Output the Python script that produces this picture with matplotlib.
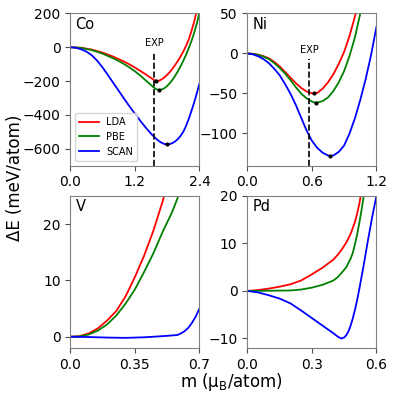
import numpy as np
import matplotlib
matplotlib.use("Agg")
import matplotlib.pyplot as plt

# ---- data ----
# Co
co_lda_x = [0, 0.2, 0.4, 0.6, 0.8, 1.0, 1.1, 1.2, 1.3, 1.4, 1.45, 1.5, 1.55, 1.6, 1.65, 1.7, 1.75,
            1.8, 1.85, 1.9, 1.95, 2.0, 2.05, 2.1, 2.15, 2.2, 2.25, 2.3, 2.35]
co_lda_y = [0, -3, -14, -32, -56, -85, -102, -120, -140, -160, -171, -182, -193, -199, -198, -190, -178,
            -163, -146, -126, -104, -80, -54, -25, 8, 45, 95, 150, 215]
co_pbe_x = [0, 0.2, 0.4, 0.6, 0.8, 0.9, 1.0, 1.1, 1.2, 1.3, 1.4, 1.45, 1.5, 1.55, 1.6, 1.65, 1.7,
            1.75, 1.8, 1.85, 1.9, 1.95, 2.0, 2.05, 2.1, 2.15, 2.2, 2.25, 2.3, 2.35, 2.4]
co_pbe_y = [0, -4, -17, -38, -66, -82, -100, -120, -142, -168, -196, -210, -224, -238, -249, -253, -250,
            -242, -229, -212, -192, -168, -141, -112, -80, -45, -6, 36, 84, 140, 205]
co_scan_x = [0, 0.1, 0.2, 0.3, 0.4, 0.5, 0.6, 0.7, 0.8, 0.9, 1.0, 1.1, 1.2, 1.3, 1.4, 1.5, 1.55,
             1.6, 1.65, 1.7, 1.75, 1.8, 1.85, 1.9, 1.95, 2.0, 2.05, 2.1, 2.15, 2.2, 2.25, 2.3, 2.35, 2.4]
co_scan_y = [0, -3, -12, -26, -48, -80, -120, -165, -212, -258, -305, -350, -393, -435, -475, -512, -528,
             -543, -556, -566, -573, -575, -573, -567, -557, -543, -524, -500, -466, -425, -378, -328, -273, -215]
co_min_x = [1.60, 1.65, 1.80]
co_min_y = [-199, -253, -575]
co_exp = 1.56

# Ni
ni_lda_x = [0, 0.05, 0.1, 0.15, 0.2, 0.25, 0.3, 0.35, 0.4, 0.45, 0.5, 0.55, 0.6, 0.62, 0.65, 0.7,
            0.75, 0.8, 0.85, 0.9, 0.95, 1.0, 1.03]
ni_lda_y = [0, -0.4, -1.5, -3.4, -6, -10.5, -16, -23, -30, -37, -43, -47.5, -49.8, -50, -49.3, -44,
            -36, -26, -13, 2, 22, 46, 62]
ni_pbe_x = [0, 0.05, 0.1, 0.15, 0.2, 0.25, 0.3, 0.35, 0.4, 0.45, 0.5, 0.55, 0.6, 0.63, 0.65, 0.7,
            0.75, 0.8, 0.85, 0.9, 0.95, 1.0, 1.05, 1.07]
ni_pbe_y = [0, -0.5, -1.8, -4, -7, -12, -18, -25, -33, -42, -50, -56, -60, -61.5, -61.4, -59.5,
            -55, -47, -36, -22, -3, 20, 50, 62]
ni_scan_x = [0, 0.05, 0.1, 0.15, 0.2, 0.25, 0.3, 0.35, 0.4, 0.45, 0.5, 0.55, 0.6, 0.65, 0.7, 0.75,
             0.77, 0.8, 0.85, 0.9, 0.95, 1.0, 1.05, 1.1, 1.15, 1.2]
ni_scan_y = [0, -1, -3.5, -7, -12, -19, -27, -38, -50, -64, -80, -96, -109, -118, -124, -127.5,
             -128, -127.5, -123, -115, -100, -81, -58, -32, -2, 33]
ni_min_x = [0.62, 0.635, 0.77]
ni_min_y = [-50, -61.5, -128]
ni_exp = 0.575

# V
v_lda_x = [0, 0.05, 0.1, 0.15, 0.2, 0.25, 0.3, 0.35, 0.4, 0.45, 0.5, 0.52]
v_lda_y = [0, 0.1, 0.6, 1.5, 2.9, 4.6, 7.2, 10.6, 14.4, 18.8, 24.0, 26.5]
v_pbe_x = [0, 0.05, 0.1, 0.15, 0.2, 0.25, 0.3, 0.35, 0.4, 0.45, 0.5, 0.55, 0.58, 0.59]
v_pbe_y = [0, 0.05, 0.4, 1.1, 2.2, 3.8, 5.9, 8.4, 11.5, 14.8, 18.6, 22.0, 24.5, 25.5]
v_scan_x = [0, 0.1, 0.2, 0.3, 0.4, 0.5, 0.58, 0.6, 0.62, 0.64, 0.66, 0.68, 0.7]
v_scan_y = [0, -0.05, -0.15, -0.2, -0.1, 0.1, 0.3, 0.6, 1.0, 1.6, 2.5, 3.6, 5.0]

# Pd
pd_lda_x = [0, 0.05, 0.1, 0.15, 0.2, 0.25, 0.3, 0.35, 0.4, 0.42, 0.44, 0.46, 0.48, 0.5, 0.51, 0.52, 0.53]
pd_lda_y = [0, 0.2, 0.5, 0.9, 1.4, 2.2, 3.5, 4.9, 6.6, 7.6, 8.8, 10.2, 12.0, 14.5, 16.2, 18.2, 20.8]
pd_pbe_x = [0, 0.1, 0.2, 0.25, 0.3, 0.35, 0.4, 0.42, 0.44, 0.46, 0.48, 0.49, 0.5, 0.51, 0.52, 0.53, 0.54, 0.545]
pd_pbe_y = [0, 0.05, 0.1, 0.3, 0.7, 1.3, 2.2, 2.9, 3.9, 5.0, 6.8, 8.0, 9.8, 11.8, 14.2, 16.8, 19.7, 21.0]
pd_scan_x = [0, 0.05, 0.1, 0.15, 0.2, 0.25, 0.3, 0.35, 0.4, 0.42, 0.436, 0.45, 0.46, 0.47, 0.48,
             0.49, 0.5, 0.51, 0.52, 0.54, 0.56, 0.58, 0.6]
pd_scan_y = [0, -0.3, -0.9, -1.6, -2.6, -4.1, -5.7, -7.3, -8.9, -9.6, -10.0, -9.8, -9.3, -8.5, -7.3,
             -5.8, -4.0, -2.0, 0.3, 5.2, 10.5, 15.5, 20.0]

labels = ['LDA', 'PBE', 'SCAN']
colors = ['r', 'g', 'b']

fig, axs = plt.subplots(2, 2, figsize=(3.95, 3.95), dpi=100)
plt.subplots_adjust(left=0.178, right=0.953, bottom=0.119, top=0.966, wspace=0.37, hspace=0.2)

panels = [
    (axs[0, 0], 'Co', [(co_lda_x, co_lda_y), (co_pbe_x, co_pbe_y), (co_scan_x, co_scan_y)],
     (0, 2.4), (-700, 200), [0, 1.2, 2.4], ['0.0', '1.2', '2.4'], [-600, -400, -200, 0, 200]),
    (axs[0, 1], 'Ni', [(ni_lda_x, ni_lda_y), (ni_pbe_x, ni_pbe_y), (ni_scan_x, ni_scan_y)],
     (0, 1.2), (-140, 50), [0, 0.6, 1.2], ['0.0', '0.6', '1.2'], [-100, -50, 0, 50]),
    (axs[1, 0], 'V', [(v_lda_x, v_lda_y), (v_pbe_x, v_pbe_y), (v_scan_x, v_scan_y)],
     (0, 0.7), (-2, 25), [0, 0.35, 0.7], ['0.0', '0.35', '0.7'], [0, 10, 20]),
    (axs[1, 1], 'Pd', [(pd_lda_x, pd_lda_y), (pd_pbe_x, pd_pbe_y), (pd_scan_x, pd_scan_y)],
     (0, 0.6), (-12, 20), [0, 0.3, 0.6], ['0.0', '0.3', '0.6'], [-10, 0, 10, 20]),
]

for ax, name, curves, xl, yl, xt, xtl, yt in panels:
    for (x, y), lab, c in zip(curves, labels, colors):
        ax.plot(x, y, color=c, lw=1.3, label=lab)
    ax.set_xlim(*xl)
    ax.set_ylim(*yl)
    ax.set_xticks(xt)
    ax.set_xticklabels(xtl)
    ax.set_yticks(yt)
    ax.tick_params(labelsize=10, width=0.8, color='0.3')
    for s in ax.spines.values():
        s.set_color('0.5')
        s.set_linewidth(0.8)
    ax.text(0.04, 0.93, name, transform=ax.transAxes, fontsize=10.5, va='center', ha='left')

# minima and experiment
ax = axs[0, 0]
ax.plot(co_min_x, co_min_y, 'o', color='k', markersize=2)
ax.plot([co_exp, co_exp], [-700, -30], '--', color='k', lw=1.2)
ax.text(co_exp, 26, 'EXP', fontsize=7, ha='center', va='center')
ax.legend(loc='lower left', fontsize=7, handlelength=2.0, borderpad=0.4, labelspacing=0.5)

ax = axs[0, 1]
ax.plot(ni_min_x, ni_min_y, 'o', color='k', markersize=2)
ax.plot([ni_exp, ni_exp], [-140, -7], '--', color='k', lw=1.2)
ax.text(ni_exp, 4.5, 'EXP', fontsize=7, ha='center', va='center')

fig.text(0.038, 0.55, 'ΔE (meV/atom)', rotation=90, fontsize=12, ha='center', va='center')
fig.text(0.585, 0.033, r'm ($\mathregular{\mu_B}$/atom)', fontsize=12, ha='center', va='center')

fig.savefig('out.png', dpi=100)
